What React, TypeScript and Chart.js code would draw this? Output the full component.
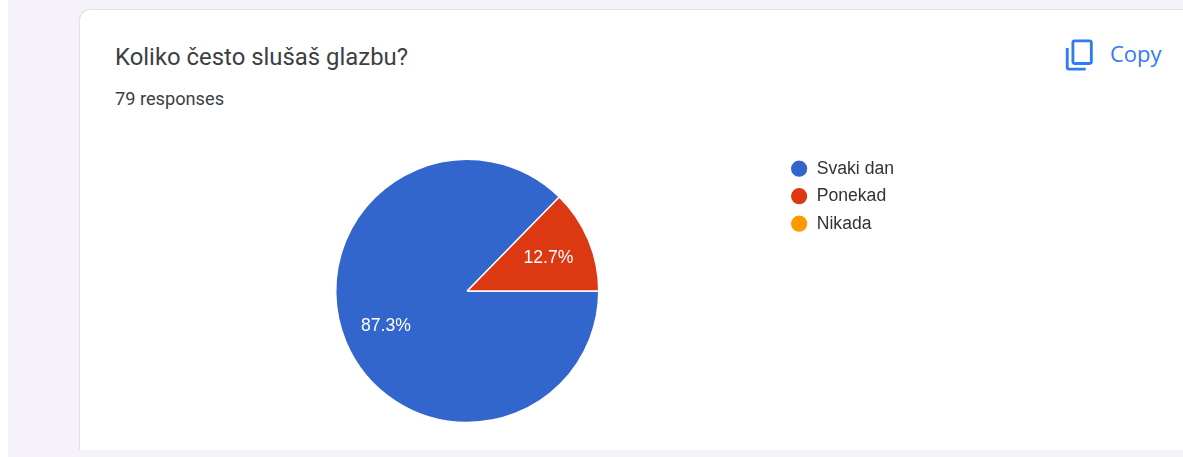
import React, { useEffect, useRef } from "react";
import { Chart, registerables } from "chart.js";

Chart.register(...registerables);

const categories = ["Svaki dan", "Ponekad", "Nikada"];
const counts = [69, 10, 0];
const colours = ["#3366cc", "#dc3912", "#ff9900"];
const questionTitle = "Koliko često slušaš glazbu?";
const responsesLabel = "79 responses";
const copyLabel = "Copy";

const sliceLabels = {
  id: "sliceLabels",
  afterDatasetsDraw(chart: any) {
    const { ctx } = chart;
    const meta = chart.getDatasetMeta(0);
    const total = counts.reduce((a, b) => a + b, 0);
    ctx.save();
    ctx.fillStyle = "#ffffff";
    ctx.font = '17.6px "Liberation Sans", Arial, sans-serif';
    ctx.textAlign = "center";
    ctx.textBaseline = "middle";
    meta.data.forEach((arc: any, i: number) => {
      if (!counts[i]) return;
      const { x, y, startAngle, endAngle, outerRadius } = arc.getProps(
        ["x", "y", "startAngle", "endAngle", "outerRadius"],
        true
      );
      const mid = (startAngle + endAngle) / 2;
      const r = outerRadius * 0.67;
      ctx.fillText(
        ((counts[i] / total) * 100).toFixed(1) + "%",
        x + Math.cos(mid) * r,
        y + Math.sin(mid) * r + 1
      );
    });
    ctx.restore();
  },
};

export default function App() {
  const ref = useRef<HTMLCanvasElement>(null);

  useEffect(() => {
    document.body.style.margin = "0";
    document.body.style.background = "#ffffff";
    const chart = new Chart(ref.current!, {
      type: "pie",
      data: {
        labels: categories,
        datasets: [
          {
            data: counts,
            backgroundColor: colours,
            borderColor: "#ffffff",
            borderWidth: 1.4,
            radius: 131.5,
          },
        ],
      },
      options: {
        animation: false,
        responsive: false,
        rotation: 90,
        plugins: {
          tooltip: { enabled: false },
          legend: {
            position: "right",
            align: "start",
            labels: {
              usePointStyle: true,
              pointStyle: "circle",
              boxHeight: 12.45,
              pointStyleWidth: 17.6,
              padding: 9.9,
              color: "#333333",
              font: { family: '"Liberation Sans", Arial, sans-serif', size: 17.6 },
            },
          },
        },
      } as any,
      plugins: [sliceLabels],
    });
    return () => chart.destroy();
  }, []);

  return (
    <div style={{ position: "relative", width: 1183, height: 457, overflow: "hidden", background: "#ffffff" }}>
      <div style={{ position: "absolute", left: 8, top: 0, width: 1175, height: 457, background: "#f5f1f8" }} />
      <div
        style={{
          position: "absolute",
          left: 79,
          top: 9,
          width: 1200,
          height: 441,
          boxSizing: "border-box",
          background: "#ffffff",
          borderLeft: "1.5px solid #e0e0e6",
          borderTop: "1.5px solid #e0e0e6",
          borderTopLeftRadius: 11,
        }}
      />
      <div
        style={{
          position: "absolute",
          left: 115,
          top: 42,
          font: '400 23.9px Roboto, sans-serif',
          lineHeight: "30px",
          color: "#3c4043",
          whiteSpace: "nowrap",
        }}
      >
        {questionTitle}
      </div>
      <div
        style={{
          position: "absolute",
          left: 115,
          top: 87,
          font: '400 18.2px Roboto, sans-serif',
          lineHeight: "24px",
          color: "#3c4043",
          whiteSpace: "nowrap",
        }}
      >
        {responsesLabel}
      </div>
      <svg
        style={{ position: "absolute", left: 1063, top: 37.6 }}
        width="34"
        height="34"
        viewBox="0 0 24 24"
        fill="#2f7cf0"
      >
        <path
          d="M16 1H4c-1.1 0-2 .9-2 2v14h2V3h12V1zm3 4H8c-1.1 0-2 .9-2 2v14c0 1.1.9 2 2 2h11c1.1 0 2-.9 2-2V7c0-1.1-.9-2-2-2zm0 16H8V7h11v14z"
          transform="matrix(1 0 0 -1 0 24)"
        />
      </svg>
      <div
        style={{
          position: "absolute",
          left: 1110,
          top: 38,
          font: '500 22px "Open Sans", sans-serif',
          lineHeight: "30px",
          color: "#2f7cf0",
          whiteSpace: "nowrap",
        }}
      >
        {copyLabel}
      </div>
      <canvas
        ref={ref}
        width={750}
        height={282}
        style={{ position: "absolute", left: 154, top: 150, width: 750, height: 282 }}
      />
    </div>
  );
}
